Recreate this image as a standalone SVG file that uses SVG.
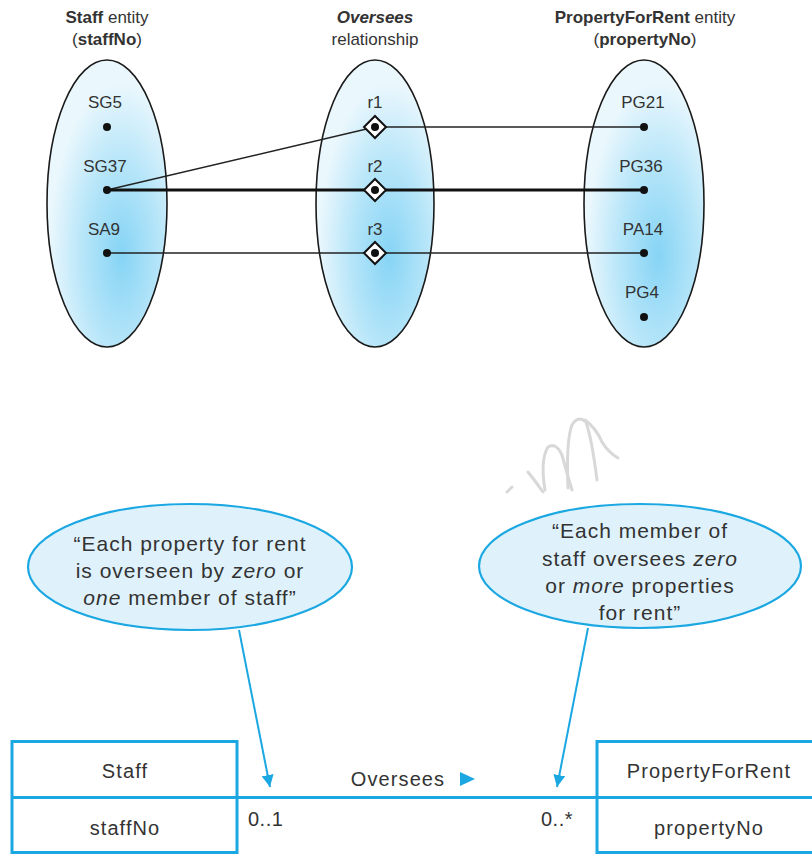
<svg xmlns="http://www.w3.org/2000/svg" width="812" height="854" viewBox="0 0 812 854">
<defs>
<radialGradient id="g" cx="0.62" cy="0.68" r="0.6">
<stop offset="0" stop-color="#86d4f5"/>
<stop offset="0.55" stop-color="#b8e6f9"/>
<stop offset="1" stop-color="#eaf7fd"/>
</radialGradient>
<marker id="ah" viewBox="0 0 10 10" refX="10" refY="5" markerWidth="12" markerHeight="12" markerUnits="userSpaceOnUse" orient="auto">
<path d="M0,0 L10,5 L0,10 z" fill="#1ba8e2"/>
</marker>
<style>
.set{fill:url(#g);stroke:#1a1a1a;stroke-width:1.6}
.lbl{font-family:"Liberation Sans",Arial,sans-serif;font-size:17px;fill:#333;text-anchor:middle}
.hdr{font-family:"Liberation Sans",Arial,sans-serif;font-size:17px;fill:#333;text-anchor:middle}
.dot{fill:#111}
.dia{fill:#fff;stroke:#111;stroke-width:2}
.ln{stroke:#222;stroke-width:1.4;fill:none}
.thick{stroke:#111;stroke-width:2.8;fill:none}
.call{fill:#dff2fc;stroke:#1ba8e2;stroke-width:2.2}
.ct{font-family:"Liberation Sans",Arial,sans-serif;font-size:21px;fill:#333;text-anchor:middle;letter-spacing:1px}
.bx{fill:none;stroke:#1ba8e2;stroke-width:3}
.bt{font-family:"Liberation Sans",Arial,sans-serif;font-size:20px;fill:#333;text-anchor:middle;letter-spacing:1.1px}
.mult{font-family:"Liberation Sans",Arial,sans-serif;font-size:20px;fill:#333;text-anchor:start;letter-spacing:0.5px}
.ptr{stroke:#1ba8e2;stroke-width:2;fill:none}
.scr{fill:none;stroke:#d8d8d8;stroke-width:3;stroke-linecap:round;stroke-linejoin:round}
</style>
</defs>

<g id="headers">
<text class="hdr" x="107" y="23"><tspan font-weight="bold">Staff</tspan> entity</text>
<text class="hdr" x="107" y="45">(<tspan font-weight="bold">staffNo</tspan>)</text>
<text class="hdr" x="375" y="23" font-weight="bold" font-style="italic">Oversees</text>
<text class="hdr" x="375" y="45">relationship</text>
<text class="hdr" x="645" y="23"><tspan font-weight="bold">PropertyForRent</tspan> entity</text>
<text class="hdr" x="645" y="45">(<tspan font-weight="bold">propertyNo</tspan>)</text>
</g>

<g id="staff-set">
<ellipse class="set" cx="107" cy="203.5" rx="60" ry="143.5"/>
<text class="lbl" x="105" y="108">SG5</text>
<text class="lbl" x="105" y="172">SG37</text>
<text class="lbl" x="104" y="235">SA9</text>
</g>
<g id="oversees-set">
<ellipse class="set" cx="375" cy="203.5" rx="59" ry="143.5"/>
<text class="lbl" x="375" y="108">r1</text>
<text class="lbl" x="375" y="172">r2</text>
<text class="lbl" x="375" y="235">r3</text>
</g>
<g id="property-set">
<ellipse class="set" cx="644" cy="203.5" rx="60" ry="143.5"/>
<text class="lbl" x="643" y="108">PG21</text>
<text class="lbl" x="641" y="172">PG36</text>
<text class="lbl" x="643" y="235">PA14</text>
<text class="lbl" x="642" y="298">PG4</text>
</g>

<g id="connectors-top">
<line class="ln" x1="107" y1="190" x2="375" y2="127"/>
<line class="ln" x1="375" y1="127" x2="644" y2="127"/>
<line class="thick" x1="107" y1="190" x2="644" y2="190"/>
<line class="ln" x1="107" y1="253" x2="644" y2="253"/>
</g>

<g id="points">
<circle class="dot" cx="107" cy="127" r="4"/>
<circle class="dot" cx="107" cy="190" r="4"/>
<circle class="dot" cx="107" cy="253" r="4"/>
<circle class="dot" cx="644" cy="127" r="4"/>
<circle class="dot" cx="644" cy="190" r="4"/>
<circle class="dot" cx="644" cy="253" r="4"/>
<circle class="dot" cx="644" cy="317" r="4"/>
<path class="dia" d="M375,116 L386,127 L375,138 L364,127 z"/>
<circle class="dot" cx="375" cy="127" r="4"/>
<path class="dia" d="M375,179 L386,190 L375,201 L364,190 z"/>
<circle class="dot" cx="375" cy="190" r="4"/>
<path class="dia" d="M375,242 L386,253 L375,264 L364,253 z"/>
<circle class="dot" cx="375" cy="253" r="4"/>
</g>

<g id="scribble">
<path class="scr" d="M507,492 L512,487"/>
<path class="scr" d="M528,472 Q536,482 543,492"/>
<path class="scr" d="M545,490 Q540,460 548,447 Q556,442 562,455 Q566,470 572,490"/>
<path class="scr" d="M568,488 Q566,440 572,425 Q578,415 586,422 Q592,440 597,480"/>
<path class="scr" d="M585,420 Q596,428 602,442 Q608,452 618,458"/>
</g>

<g id="callout-left">
<ellipse class="call" cx="190" cy="567" rx="162" ry="63"/>
<text class="ct" x="190" y="551">“Each property for rent</text>
<text class="ct" x="190" y="578">is overseen by <tspan font-style="italic">zero</tspan> or</text>
<text class="ct" x="190" y="605"><tspan font-style="italic">one</tspan> member of staff”</text>
</g>
<g id="callout-right">
<ellipse class="call" cx="640" cy="566" rx="161" ry="62"/>
<text class="ct" x="640" y="538">“Each member of</text>
<text class="ct" x="640" y="566">staff oversees <tspan font-style="italic">zero</tspan></text>
<text class="ct" x="640" y="593">or <tspan font-style="italic">more</tspan> properties</text>
<text class="ct" x="640" y="620">for rent”</text>
</g>

<g id="staff-class">
<rect class="bx" x="12" y="741.5" width="225" height="111"/>
<line class="bx" x1="12" y1="797.5" x2="237" y2="797.5"/>
<text class="bt" x="125" y="778">Staff</text>
<text class="bt" x="125" y="835">staffNo</text>
</g>
<g id="property-class">
<rect class="bx" x="597" y="741.5" width="230" height="111"/>
<line class="bx" x1="597" y1="797.5" x2="812" y2="797.5"/>
<text class="bt" x="709" y="778">PropertyForRent</text>
<text class="bt" x="709" y="835">propertyNo</text>
</g>

<g id="connectors-bottom">
<line class="bx" x1="237" y1="797.5" x2="597" y2="797.5"/>
<text class="bt" x="398" y="786">Oversees</text>
<path d="M460,772 L475,779 L460,786 z" fill="#1ba8e2"/>
<text class="mult" x="248" y="826">0..1</text>
<text class="mult" x="541" y="826">0..*</text>
<line class="ptr" x1="239" y1="630" x2="270" y2="787" marker-end="url(#ah)"/>
<line class="ptr" x1="588" y1="628" x2="557" y2="787" marker-end="url(#ah)"/>
</g>
</svg>
